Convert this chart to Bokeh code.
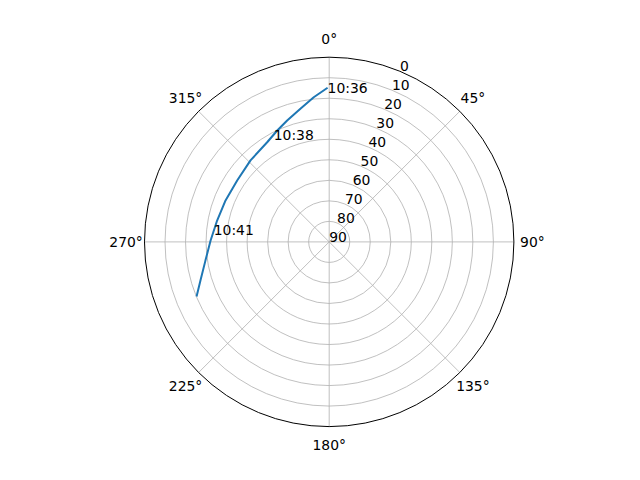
import numpy as np
from bokeh.plotting import figure
from bokeh.models import Range1d
from bokeh.core.properties import value
from bokeh.embed import file_html
from bokeh.resources import INLINE

# ---- data (azimuth in degrees, clockwise from north; elevation in degrees) ----
pass_az = [359.4, 353.9, 347.8, 340.9, 335.0, 328.1, 316.0, 303.7, 291.8,
           280.8, 270.7, 261.4, 253.3, 247.6]
pass_el = [14.9, 19.1, 23.6, 27.4, 30.1, 32.8, 34.8, 36.1, 35.6,
           34.4, 32.2, 29.0, 24.5, 20.1]

label_times = ["10:36", "10:38", "10:41"]
label_az = [359.4, 332.5, 276.1]
label_el = [14.9, 31.5, 33.4]

theta_ticks = [0, 45, 90, 135, 180, 225, 270, 315]
theta_labels = ["0°", "45°", "90°", "135°", "180°", "225°", "270°", "315°"]
r_ticks = [0, 10, 20, 30, 40, 50, 60, 70, 80, 90]
r_labels = ["0", "10", "20", "30", "40", "50", "60", "70", "80", "90"]
rlabel_angle = 22.5

RMAX = 90.0
FONT = value("DejaVu Sans")
FS = "13.9px"


def to_xy(az, el):
    az = np.radians(np.asarray(az, dtype=float))
    r = RMAX - np.asarray(el, dtype=float)
    return r * np.sin(az), r * np.cos(az)


W, H = 624, 464
scale = 184.7 / RMAX          # px per unit
cx, cy = 328.7, 241.4         # center in figure px (from top-left)

p = figure(width=W, height=H, output_backend="svg", toolbar_location=None,
           x_axis_type=None, y_axis_type=None, min_border=0,
           x_range=Range1d(-cx / scale, (W - cx) / scale),
           y_range=Range1d(-(H - cy) / scale, cy / scale))
p.outline_line_color = None
p.xgrid.visible = False
p.ygrid.visible = False
p.background_fill_color = "white"
p.border_fill_color = "white"

# grid rings
ring_r = [RMAX - v for v in r_ticks if 0 < v < 90]
p.circle(x=[0] * len(ring_r), y=[0] * len(ring_r), radius=ring_r,
         fill_color=None, line_color="#b0b0b0", line_width=0.8)
# spokes
th = np.radians(theta_ticks)
p.segment(x0=[0] * len(th), y0=[0] * len(th), x1=RMAX * np.sin(th), y1=RMAX * np.cos(th),
          line_color="#b0b0b0", line_width=0.8)
# outer boundary
p.circle(x=[0], y=[0], radius=[RMAX], fill_color=None, line_color="black", line_width=1)

# pass line
px, py = to_xy(pass_az, pass_el)
p.line(px, py, line_color="#1f77b4", line_width=2)

# time annotations
lx, ly = to_xy(label_az, label_el)
p.text(x=lx, y=ly, text=label_times, text_font=FONT, text_font_size=FS,
       text_align="left", text_baseline="alphabetic", text_color="black")

# theta labels
rl = RMAX * 1.1
p.text(x=rl * np.sin(th), y=rl * np.cos(th), text=theta_labels, text_font=FONT,
       text_font_size=FS, text_align="center", text_baseline="middle", text_color="black")

# radial labels
ra = np.radians(rlabel_angle)
rr = np.array([RMAX - v for v in r_ticks], dtype=float)
p.text(x=rr * np.sin(ra), y=rr * np.cos(ra), text=r_labels, text_font=FONT,
       text_font_size=FS, text_align="left", text_baseline="bottom", text_color="black")

open("out.html", "w").write(file_html(p, INLINE))
